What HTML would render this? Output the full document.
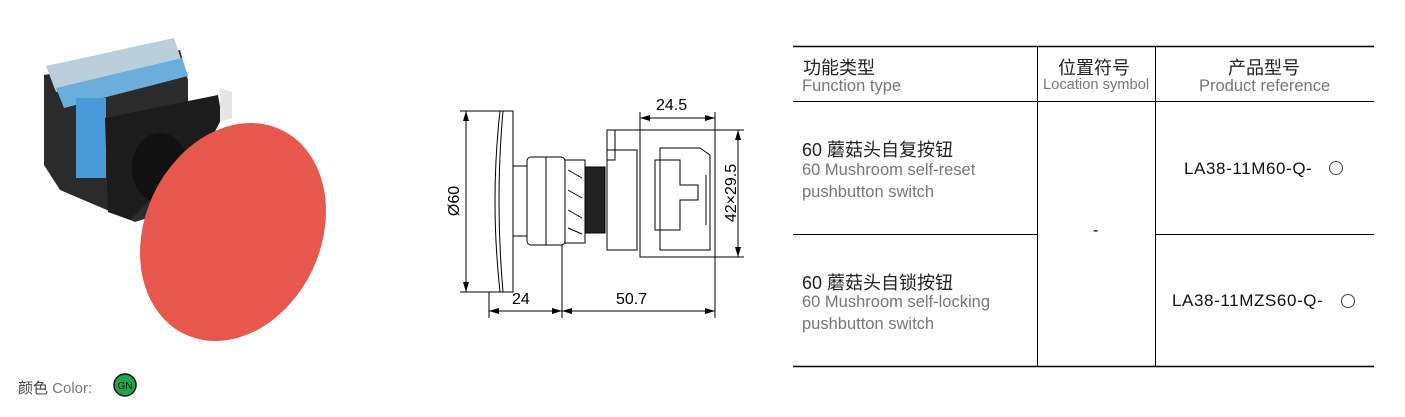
<!DOCTYPE html>
<html><head><meta charset="utf-8"><style>
body{margin:0;width:1405px;height:417px;background:#fff;position:relative;overflow:hidden;font-family:"Liberation Sans","Noto Sans CJK SC",sans-serif}
.t{position:absolute;white-space:nowrap}
.cn{font-size:18px;color:#222}
.en{font-size:16.5px;color:#777}
.pr{font-size:17px;letter-spacing:0.6px;color:#111}
</style></head><body>
<svg width="1405" height="417" style="position:absolute;left:0;top:0">
<defs><marker id="a" markerWidth="10" markerHeight="6" refX="10" refY="3" orient="auto-start-reverse" markerUnits="userSpaceOnUse"><path d="M0,0L10,3L0,6z" fill="#000"/></marker></defs>
<g>
<path d="M44,75 L180,50 L188,80 L188,205 L135,222 L60,190 L44,165z" fill="#2b2b2b"/>
<path d="M46,66 L174,38 L182,62 L56,92z" fill="#b9cfdc"/>
<path d="M56,88 L182,58 L188,76 L64,108z" fill="#6aaedc"/>
<rect x="76" y="98" width="30" height="80" fill="#4a9ad8"/>
<path d="M105,118 L218,95 L222,118 L200,160 L150,200 L130,220 L108,212z" fill="#1c1c1c"/>
<path d="M220,88 L232,92 L232,118 L220,122z" fill="#e6e6e6"/>
<ellipse cx="160" cy="168" rx="28" ry="35" fill="#111"/>
<ellipse cx="233" cy="232" rx="88" ry="113" transform="rotate(25 233 232)" fill="#e8574e"/>
</g>
<circle cx="125" cy="385" r="11" fill="#1fa64a" stroke="#111" stroke-width="1.5"/>
<text x="125" y="389" font-size="10" text-anchor="middle" fill="#111" font-family="Liberation Sans">GN</text>
<g stroke="#000" fill="none" stroke-width="1">
<path d="M500,111 L513,111 L513,292 L500,292 Q490,200 500,111z"/>
<path d="M503,111 Q495,200 503,292"/>
<rect x="513" y="166" width="14" height="70"/>
<rect x="527" y="157" width="38" height="88" rx="4"/>
<line x1="546" y1="157" x2="546" y2="245"/>
<rect x="565" y="160" width="20" height="83"/>
<path d="M568,170 l14,8 M568,190 l14,8 M568,210 l14,8 M568,228 l14,6"/>
<rect x="585" y="167" width="20" height="66" fill="#222"/>
<rect x="607" y="130" width="8" height="30"/>
<rect x="607" y="150" width="30" height="100"/>
<path d="M615,130 L715,130 L715,257 L640,257 L640,150"/>
<path d="M660,148 L700,148 L710,155 L710,250 L660,250z"/>
<path d="M655,160 L680,160 L680,185 L698,185 L698,200 L680,200 L680,230 L655,230z"/>
<line x1="706" y1="175" x2="706" y2="225"/>
</g>
<g stroke="#000" stroke-width="1">
<line x1="466" y1="111" x2="466" y2="292" marker-start="url(#a)" marker-end="url(#a)"/>
<line x1="460" y1="111" x2="500" y2="111"/><line x1="460" y1="292" x2="500" y2="292"/>
<line x1="640" y1="118" x2="715" y2="118" marker-start="url(#a)" marker-end="url(#a)"/>
<line x1="640" y1="112" x2="640" y2="150"/><line x1="715" y1="112" x2="715" y2="318"/>
<line x1="738" y1="130" x2="738" y2="257" marker-start="url(#a)" marker-end="url(#a)"/>
<line x1="715" y1="130" x2="744" y2="130"/><line x1="715" y1="257" x2="744" y2="257"/>
<line x1="489" y1="311" x2="562" y2="311" marker-start="url(#a)" marker-end="url(#a)"/>
<line x1="562" y1="311" x2="715" y2="311" marker-start="url(#a)" marker-end="url(#a)"/>
<line x1="489" y1="292" x2="489" y2="318"/><line x1="562" y1="245" x2="562" y2="318"/>
</g>
<g font-family="Liberation Sans" font-size="16" fill="#000">
<text x="656" y="110">24.5</text>
<text x="512" y="304">24</text>
<text x="616" y="304">50.7</text>
<text transform="translate(459,201) rotate(-90)" text-anchor="middle">Ø60</text>
<text transform="translate(736,193) rotate(-90)" text-anchor="middle">42×29.5</text>
</g>
<g stroke="#000">
<line x1="793" y1="46.5" x2="1374" y2="46.5" stroke-width="1.5"/>
<line x1="793" y1="101.5" x2="1374" y2="101.5"/>
<line x1="793" y1="234.5" x2="1037" y2="234.5"/>
<line x1="1155" y1="234.5" x2="1374" y2="234.5"/>
<line x1="793" y1="366.5" x2="1374" y2="366.5" stroke-width="1.5"/>
<line x1="1037.5" y1="46" x2="1037.5" y2="367"/>
<line x1="1155.5" y1="46" x2="1155.5" y2="367"/>
</g>
<circle cx="1336" cy="168" r="6.5" fill="none" stroke="#444"/>
<circle cx="1348" cy="301" r="6.5" fill="none" stroke="#444"/>
</svg>
<div class="t" style="left:18px;top:377px;font-size:15px;color:#444">颜色 <span style="color:#777">Color:</span></div>
<div class="t cn" style="left:803px;top:54px">功能类型</div>
<div class="t en" style="left:802px;top:77px">Function type</div>
<div class="t cn" style="left:1058px;top:54px">位置符号</div>
<div class="t en" style="left:1043px;top:77px;font-size:14.7px">Location symbol</div>
<div class="t cn" style="left:1228px;top:54px">产品型号</div>
<div class="t en" style="left:1199px;top:77px">Product reference</div>
<div class="t cn" style="left:802px;top:136px">60 蘑菇头自复按钮</div>
<div class="t en" style="left:802px;top:159px;line-height:22px">60 Mushroom self-reset<br>pushbutton switch</div>
<div class="t cn" style="left:802px;top:269px">60 蘑菇头自锁按钮</div>
<div class="t en" style="left:802px;top:291px;line-height:22px">60 Mushroom self-locking<br>pushbutton switch</div>
<div class="t" style="left:1093px;top:222px;font-size:16px">-</div>
<div class="t pr" style="left:1184px;top:159px">LA38-11M60-Q-</div>
<div class="t pr" style="left:1172px;top:291px">LA38-11MZS60-Q-</div>
</body></html>
